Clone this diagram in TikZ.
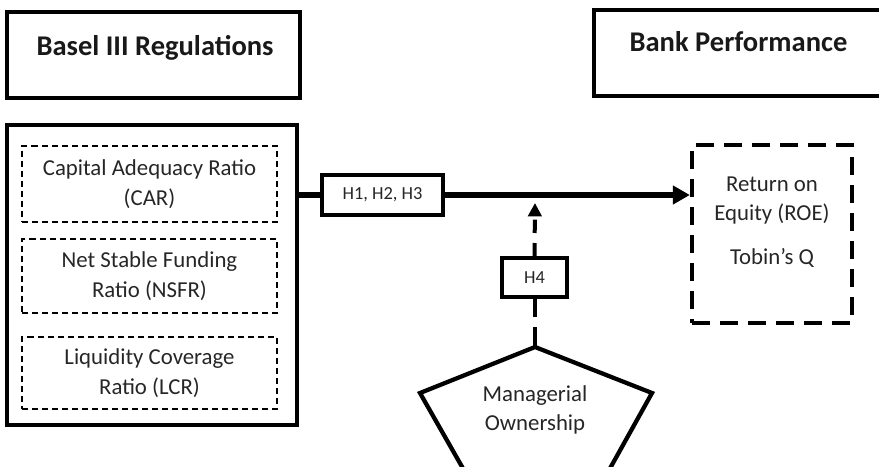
\documentclass[tikz,border=0pt]{standalone}
\usepackage{fontspec}
\setmainfont{Carlito}
\usetikzlibrary{arrows.meta,positioning}

\begin{document}
\begin{tikzpicture}[x=0.75pt,y=-0.75pt]
  \tikzstyle{headbox}=[draw, line width=3.2pt, inner sep=0pt]
  \tikzstyle{headtext}=[font=\bfseries\fontsize{21.4}{26}\selectfont, text=black!90, anchor=base]
  \tikzstyle{ratio}=[draw, line width=1.1pt, dash pattern=on 4.5pt off 3pt, align=center,
    minimum width=191pt, font=\fontsize{17.1}{22}\selectfont, text=black!85]
  \tikzstyle{hyp}=[draw, fill=white, line width=2.5pt, font=\fontsize{13.8}{16}\selectfont, text=black!85]
  \useasboundingbox (0,0) rectangle (879,467);

  % headings
  \node[headbox, minimum width=219.75pt, minimum height=64.5pt] (baselbox) at (153.5,55) {};
  \node[headtext] (basel) at (155,56) {Basel III Regulations};
  \node[headbox, minimum width=222pt, minimum height=64.5pt] (bankbox) at (742,53) {};
  \node[headtext] (bank) at (738.5,52) {Bank Performance};

  % regulations
  \node[draw, line width=3.2pt, minimum width=217.5pt, minimum height=225pt] (regs) at (152,275) {};
  \node[ratio, minimum height=57pt] (car) at (149.5,184) {Capital Adequacy Ratio\\(CAR)};
  \node[ratio, minimum height=55.5pt] (nsfr) at (149.5,276) {Net Stable Funding\\Ratio (NSFR)};
  \node[ratio, minimum height=54pt] (lcr) at (149.5,373) {Liquidity Coverage\\Ratio (LCR)};

  % performance
  \node[draw, line width=3.2pt, dash pattern=on 13.5pt off 7.5pt, minimum width=120pt, minimum height=133.5pt] (roe) at (772,234) {};
  \node[align=center, anchor=north, font=\fontsize{17.1}{22}\selectfont, text=black!85] (roetext) at (772,172)
    {Return on\\Equity (ROE)\\[11pt]Tobin’s Q};

  % moderator
  \coordinate (mtop) at (535,347);
  \draw[line width=3.2pt, line join=miter] (mtop) -- (652,393) -- (608,472) -- (465,472) -- (420,393) -- cycle;
  \node[align=center, font=\fontsize{17.1}{22}\selectfont, text=black!85] (mo) at (535,410) {Managerial\\Ownership};

  % hypotheses
  \node[hyp, minimum width=90.75pt, minimum height=30pt] (h123) at (382.5,195) {H1, H2, H3};
  \node[hyp, minimum width=48.75pt, minimum height=29.25pt] (h4) at (534.5,277.5) {H4};
  \coordinate (h4tip) at (535,203);

  \draw[line width=4.2pt] (regs.east |- h123.west) -- (h123.west);
  \draw[line width=4.2pt, -{Triangle[length=12.75pt, width=13.5pt]}] (h123.east) -- (roe.west |- h123.east);
  \draw[line width=3pt, dash pattern=on 15pt off 7.5pt] (mtop) -- (mtop |- h4.south);
  \draw[line width=3pt, dash pattern=on 10pt off 7.5pt, -{Triangle[length=10pt, width=10pt]}] (h4.north) -- (h4tip);
\end{tikzpicture}
\end{document}
